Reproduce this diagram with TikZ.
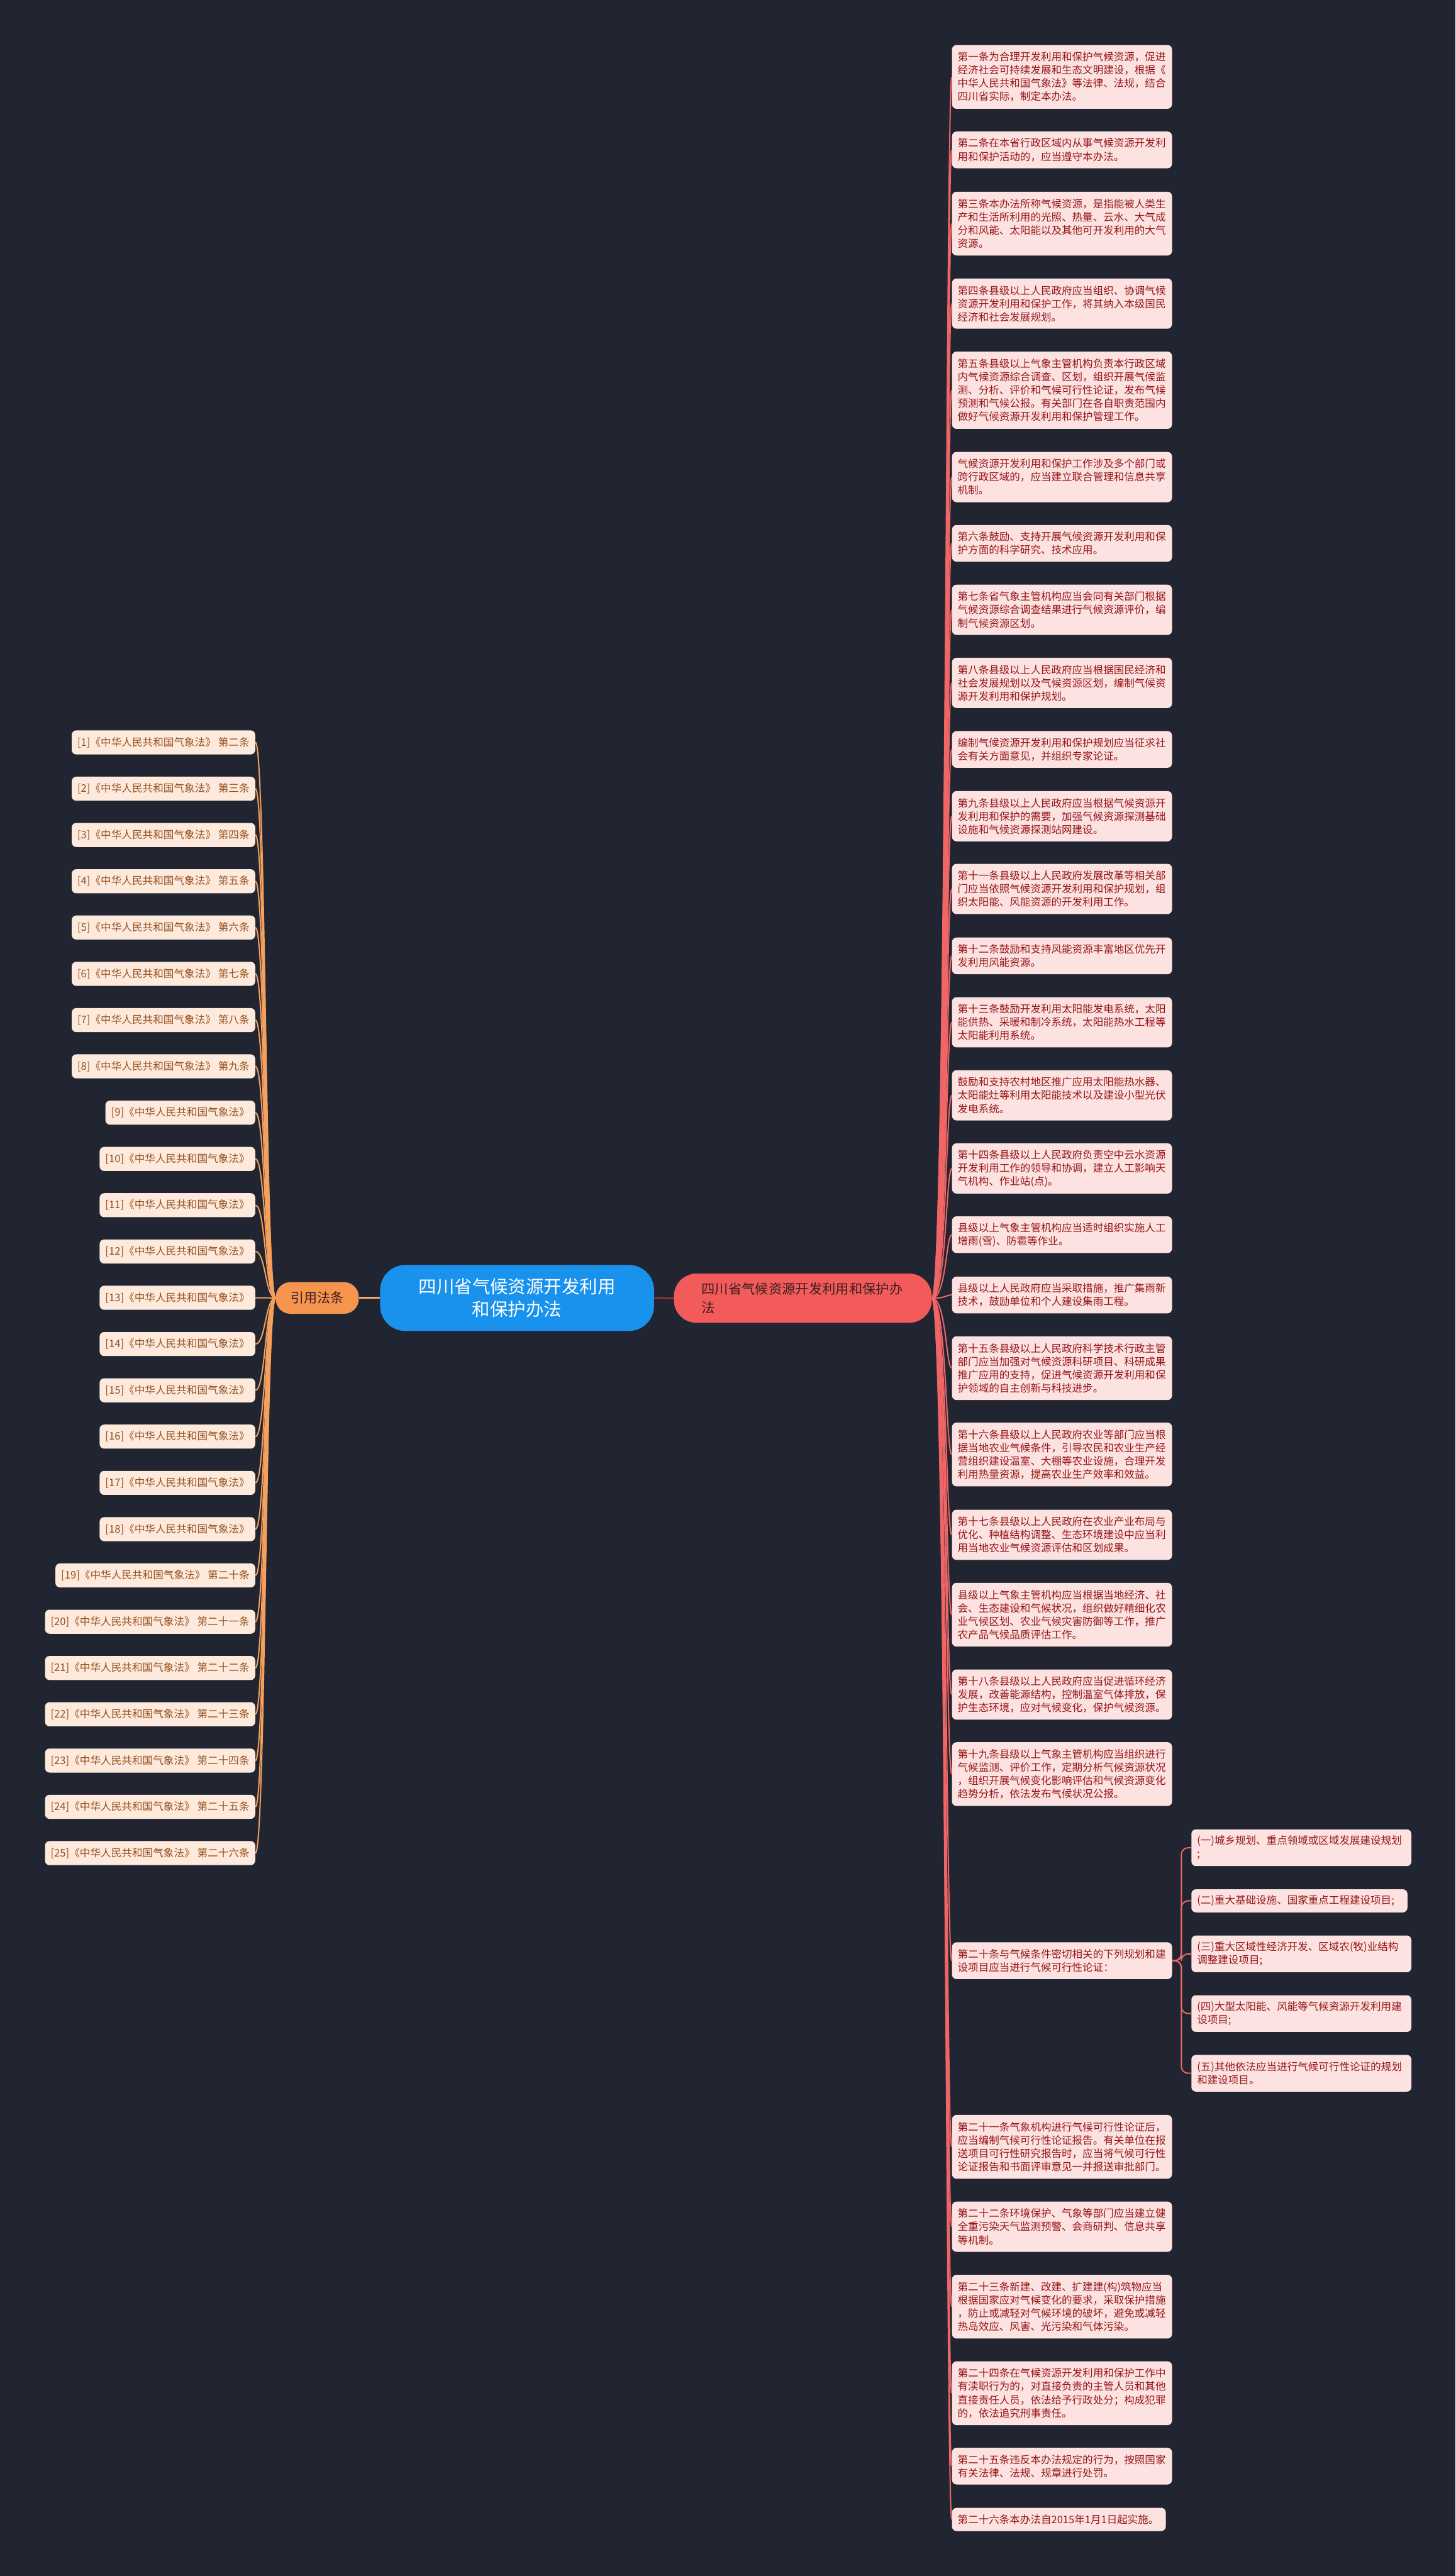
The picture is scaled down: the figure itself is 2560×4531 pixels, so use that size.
\documentclass[tikz,border=0pt]{standalone}
\usepackage{fontspec}
\newfontfamily\cjk{Noto Sans CJK SC}
\definecolor{bg}{RGB}{33,37,49}
\definecolor{rfill}{RGB}{253,226,226}
\definecolor{rtext}{RGB}{150,22,22}
\definecolor{lfill}{RGB}{253,234,220}
\definecolor{ltext}{RGB}{150,82,32}
\definecolor{rline}{RGB}{240,102,102}
\definecolor{lline}{RGB}{245,160,92}
\definecolor{rootblue}{RGB}{24,146,236}
\definecolor{citeorange}{RGB}{247,148,77}
\definecolor{mainred}{RGB}{243,91,91}
\definecolor{darktext}{RGB}{55,30,30}
\definecolor{rootline}{RGB}{140,52,62}
\definecolor{citeline}{RGB}{240,170,120}
\tikzset{
  rbox/.style={fill=rfill, text=rtext, rounded corners=4pt, inner xsep=5pt, inner ysep=0pt,
    text width=183.5pt, align=left, font=\cjk\fontsize{9.15pt}{11.65pt}\selectfont},
  lbox/.style={fill=lfill, text=ltext, rounded corners=4pt, inner xsep=5pt, inner ysep=0pt,
    minimum height=21.15pt, font=\cjk\fontsize{9.2pt}{10.5pt}\selectfont},
  rconn/.style={draw=rline, line width=1.1pt},
  lconn/.style={draw=lline, line width=1.1pt},
  rootnode/.style={fill=rootblue, text=white, rounded corners=22pt, minimum width=240.85pt,
    minimum height=58pt, align=center, font=\cjk\fontsize{15.75pt}{19.65pt}\selectfont},
  citenode/.style={fill=citeorange, text=darktext, rounded corners=13pt, minimum width=73pt,
    minimum height=27.85pt, font=\cjk\fontsize{11.65pt}{14pt}\selectfont},
  mainnode/.style={fill=mainred, text=darktext, rounded corners=20pt, text width=178pt,
    inner xsep=24.4pt, minimum height=43.35pt, align=left, font=\cjk\fontsize{11.8pt}{16.5pt}\selectfont},
}
\newcommand\rb[4]{\node[rbox,anchor=north west,minimum height={(#3*23.8+17)*0.5pt}] (#1) at (1674,#2) {#4};}
\newcommand\lb[2]{\node[lbox,anchor=north east] (L#1) at (449.3,{1284.3+81.4*(#1-1)}) {#2};}
\begin{document}
\begin{tikzpicture}[x=0.5pt,y=-0.5pt]
\fill[bg] (0,0) rectangle (2560,4531);
\useasboundingbox (0,0) rectangle (2560,4531);

% central nodes
\node[rootnode] (root) at (909.5,2283) {四川省气候资源开发利用\\和保护办法};
\node[citenode] (cite) at (558,2283) {引用法条};
\node[mainnode] (main) at (1412,2283.4) {四川省气候资源开发利用和保护办\\法};

% right boxes
\rb{B1}{78.75}{4}{第一条为合理开发利用和保护气候资源，促进\\经济社会可持续发展和生态文明建设，根据《\\中华人民共和国气象法》等法律、法规，结合\\四川省实际，制定本办法。}
\rb{B2}{231}{2}{第二条在本省行政区域内从事气候资源开发利\\用和保护活动的，应当遵守本办法。}
\rb{B3}{336.8}{4}{第三条本办法所称气候资源，是指能被人类生\\产和生活所利用的光照、热量、云水、大气成\\分和风能、太阳能以及其他可开发利用的大气\\资源。}
\rb{B4}{489.4}{3}{第四条县级以上人民政府应当组织、协调气候\\资源开发利用和保护工作，将其纳入本级国民\\经济和社会发展规划。}
\rb{B5}{618}{5}{第五条县级以上气象主管机构负责本行政区域\\内气候资源综合调查、区划，组织开展气候监\\测、分析、评价和气候可行性论证，发布气候\\预测和气候公报。有关部门在各自职责范围内\\做好气候资源开发利用和保护管理工作。}
\rb{B6}{794.5}{3}{气候资源开发利用和保护工作涉及多个部门或\\跨行政区域的，应当建立联合管理和信息共享\\机制。}
\rb{B7}{923}{2}{第六条鼓励、支持开展气候资源开发利用和保\\护方面的科学研究、技术应用。}
\rb{B8}{1028}{3}{第七条省气象主管机构应当会同有关部门根据\\气候资源综合调查结果进行气候资源评价，编\\制气候资源区划。}
\rb{B9}{1156.5}{3}{第八条县级以上人民政府应当根据国民经济和\\社会发展规划以及气候资源区划，编制气候资\\源开发利用和保护规划。}
\rb{B10}{1285.5}{2}{编制气候资源开发利用和保护规划应当征求社\\会有关方面意见，并组织专家论证。}
\rb{B11}{1391}{3}{第九条县级以上人民政府应当根据气候资源开\\发利用和保护的需要，加强气候资源探测基础\\设施和气候资源探测站网建设。}
\rb{B12}{1519}{3}{第十一条县级以上人民政府发展改革等相关部\\门应当依照气候资源开发利用和保护规划，组\\织太阳能、风能资源的开发利用工作。}
\rb{B13}{1648.6}{2}{第十二条鼓励和支持风能资源丰富地区优先开\\发利用风能资源。}
\rb{B14}{1753.5}{3}{第十三条鼓励开发利用太阳能发电系统，太阳\\能供热、采暖和制冷系统，太阳能热水工程等\\太阳能利用系统。}
\rb{B15}{1882}{3}{鼓励和支持农村地区推广应用太阳能热水器、\\太阳能灶等利用太阳能技术以及建设小型光伏\\发电系统。}
\rb{B16}{2010.6}{3}{第十四条县级以上人民政府负责空中云水资源\\开发利用工作的领导和协调，建立人工影响天\\气机构、作业站(点)。}
\rb{B17}{2139}{2}{县级以上气象主管机构应当适时组织实施人工\\增雨(雪)、防雹等作业。}
\rb{B18}{2245}{2}{县级以上人民政府应当采取措施，推广集雨新\\技术，鼓励单位和个人建设集雨工程。}
\rb{B19}{2350}{4}{第十五条县级以上人民政府科学技术行政主管\\部门应当加强对气候资源科研项目、科研成果\\推广应用的支持，促进气候资源开发利用和保\\护领域的自主创新与科技进步。}
\rb{B20}{2501.8}{4}{第十六条县级以上人民政府农业等部门应当根\\据当地农业气候条件，引导农民和农业生产经\\营组织建设温室、大棚等农业设施，合理开发\\利用热量资源，提高农业生产效率和效益。}
\rb{B21}{2655}{3}{第十七条县级以上人民政府在农业产业布局与\\优化、种植结构调整、生态环境建设中应当利\\用当地农业气候资源评估和区划成果。}
\rb{B22}{2783.6}{4}{县级以上气象主管机构应当根据当地经济、社\\会、生态建设和气候状况，组织做好精细化农\\业气候区划、农业气候灾害防御等工作，推广\\农产品气候品质评估工作。}
\rb{B23}{2936}{3}{第十八条县级以上人民政府应当促进循环经济\\发展，改善能源结构，控制温室气体排放，保\\护生态环境，应对气候变化，保护气候资源。}
\rb{B24}{3064}{4}{第十九条县级以上气象主管机构应当组织进行\\气候监测、评价工作，定期分析气候资源状况\\，组织开展气候变化影响评估和气候资源变化\\趋势分析，依法发布气候状况公报。}
\rb{B25}{3416}{2}{第二十条与气候条件密切相关的下列规划和建\\设项目应当进行气候可行性论证：}
\rb{B26}{3719.6}{4}{第二十一条气象机构进行气候可行性论证后，\\应当编制气候可行性论证报告。有关单位在报\\送项目可行性研究报告时，应当将气候可行性\\论证报告和书面评审意见一并报送审批部门。}
\rb{B27}{3872}{3}{第二十二条环境保护、气象等部门应当建立健\\全重污染天气监测预警、会商研判、信息共享\\等机制。}
\rb{B28}{4000.7}{4}{第二十三条新建、改建、扩建建(构)筑物应当\\根据国家应对气候变化的要求，采取保护措施\\，防止或减轻对气候环境的破坏，避免或减轻\\热岛效应、风害、光污染和气体污染。}
\rb{B29}{4153}{4}{第二十四条在气候资源开发利用和保护工作中\\有渎职行为的，对直接负责的主管人员和其他\\直接责任人员，依法给予行政处分；构成犯罪\\的，依法追究刑事责任。}
\rb{B30}{4305}{2}{第二十五条违反本办法规定的行为，按照国家\\有关法律、法规、规章进行处罚。}
\node[rbox,text width=178pt,anchor=north west,minimum height=20.4pt] (B31) at (1674,4410.7) {第二十六条本办法自2015年1月1日起实施。};

% sub boxes of article 20
\node[rbox,anchor=north west,minimum height=32.3pt] (S1) at (2095,3217.3) {(一)城乡规划、重点领域或区域发展建设规划\\;};
\node[rbox,text width=180pt,anchor=north west,minimum height=20.3pt] (S2) at (2095,3322.7) {(二)重大基础设施、国家重点工程建设项目;};
\node[rbox,anchor=north west,minimum height=32.3pt] (S3) at (2095,3404) {(三)重大区域性经济开发、区域农(牧)业结构\\调整建设项目;};
\node[rbox,anchor=north west,minimum height=32.3pt] (S4) at (2095,3509) {(四)大型太阳能、风能等气候资源开发利用建\\设项目;};
\node[rbox,anchor=north west,minimum height=32.3pt] (S5) at (2095,3614) {(五)其他依法应当进行气候可行性论证的规划\\和建设项目。};

% left boxes
\lb{1}{[1]《中华人民共和国气象法》 第二条}
\lb{2}{[2]《中华人民共和国气象法》 第三条}
\lb{3}{[3]《中华人民共和国气象法》 第四条}
\lb{4}{[4]《中华人民共和国气象法》 第五条}
\lb{5}{[5]《中华人民共和国气象法》 第六条}
\lb{6}{[6]《中华人民共和国气象法》 第七条}
\lb{7}{[7]《中华人民共和国气象法》 第八条}
\lb{8}{[8]《中华人民共和国气象法》 第九条}
\lb{9}{[9]《中华人民共和国气象法》}
\lb{10}{[10]《中华人民共和国气象法》}
\lb{11}{[11]《中华人民共和国气象法》}
\lb{12}{[12]《中华人民共和国气象法》}
\lb{13}{[13]《中华人民共和国气象法》}
\lb{14}{[14]《中华人民共和国气象法》}
\lb{15}{[15]《中华人民共和国气象法》}
\lb{16}{[16]《中华人民共和国气象法》}
\lb{17}{[17]《中华人民共和国气象法》}
\lb{18}{[18]《中华人民共和国气象法》}
\lb{19}{[19]《中华人民共和国气象法》 第二十条}
\lb{20}{[20]《中华人民共和国气象法》 第二十一条}
\lb{21}{[21]《中华人民共和国气象法》 第二十二条}
\lb{22}{[22]《中华人民共和国气象法》 第二十三条}
\lb{23}{[23]《中华人民共和国气象法》 第二十四条}
\lb{24}{[24]《中华人民共和国气象法》 第二十五条}
\lb{25}{[25]《中华人民共和国气象法》 第二十六条}

% connectors
\draw[draw=rootline, line width=1.5pt] (root.east) -- (main.west);
\draw[draw=citeline, line width=1.5pt] (cite.east) -- (root.west);
\foreach \c in {B1,B2,B3,B4,B5,B6,B7,B8,B9,B10,B11,B12,B13,B14,B15,B16,B17,B18,B19,B20,B21,B22,B23,B24,B25,B26,B27,B28,B29,B30,B31}
  \draw[rconn] (main.east) .. controls +(25,0) and +(-10,0) .. (\c.west);
\foreach \i in {1,...,25}
  \draw[lconn] (cite.west) .. controls +(-18,0) and +(18,0) .. (L\i.east);
\foreach \s in {S1,S2,S3,S4,S5}
  \draw[rconn, rounded corners=6pt] (B25.east) -- ++(16,0) |- (\s.west);
\end{tikzpicture}
\end{document}
